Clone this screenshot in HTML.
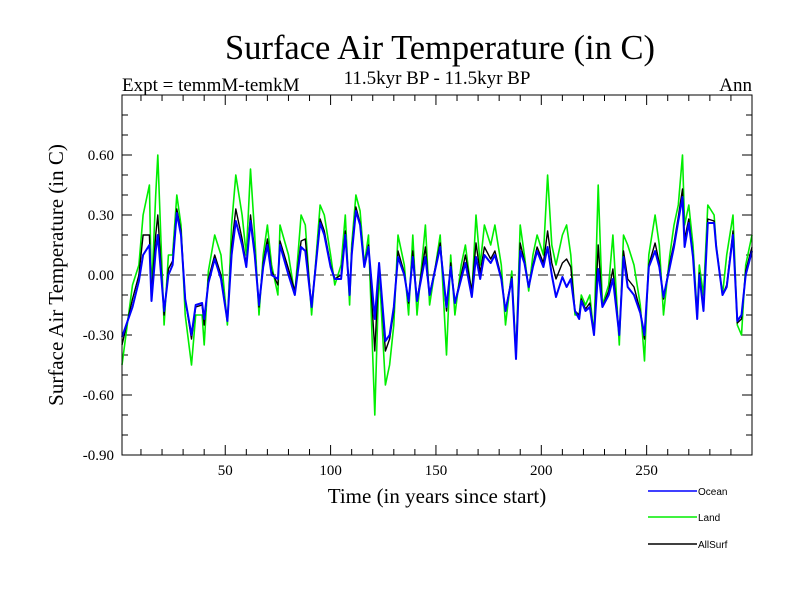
<!DOCTYPE html>
<html><head><meta charset="utf-8"><style>
body{margin:0;background:#fff;}
svg{display:block;font-family:"Liberation Serif",serif;}
</style></head><body>
<svg id="chart" width="800" height="600">
<text x="440" y="59" font-size="34.5" text-anchor="middle">Surface Air Temperature (in C)</text>
<text x="122" y="91" font-size="19">Expt = temmM-temkM</text>
<text x="437" y="84" font-size="19" text-anchor="middle">11.5kyr BP - 11.5kyr BP</text>
<text x="752" y="91" font-size="19" text-anchor="end">Ann</text>
<text x="437" y="503" font-size="21" text-anchor="middle">Time (in years since start)</text>
<text transform="translate(63,275) rotate(-90)" font-size="21" text-anchor="middle">Surface Air Temperature (in C)</text>
<g id="axes"></g>
<g id="series"></g>
<rect x="122" y="95" width="630" height="360" fill="none" stroke="#000" stroke-width="1"/>
<g font-family="Liberation Sans, sans-serif" font-size="10">
<g><line x1="648" y1="491" x2="697" y2="491" stroke="#0000ff" stroke-width="1.5"/><text x="698" y="495">Ocean</text></g>
<g><line x1="648" y1="517" x2="697" y2="517" stroke="#00ee00" stroke-width="1.5"/><text x="698" y="521">Land</text></g>
<g><line x1="648" y1="544" x2="697" y2="544" stroke="#000" stroke-width="1.5"/><text x="698" y="548">AllSurf</text></g>
</g>
</svg>
<script>
const years=[1,6,9,11,14,15,17,18,21,23,25,27,29,31,34,36,39,40,42,45,48,51,53,55,58,60,62,64,66,68,70,72,75,76,80,83,86,88,91,95,97,100,102,105,107,109,110,112,114,116,118,121,123,126,128,130,132,135,137,139,141,145,147,152,155,157,159,162,164,167,169,171,173,176,178,181,183,186,188,190,192,194,196,198,201,203,205,207,210,212,214,216,218,219,221,223,225,227,229,232,234,237,239,241,244,247,249,251,254,256,258,261,263,265,267,268,270,272,274,275,277,279,282,283,286,288,291,293,295,297,300];
const ocean=[-0.31,-0.16,-0.03,0.10,0.15,-0.13,0.12,0.20,-0.18,0,0.05,0.31,0.20,-0.12,-0.30,-0.15,-0.14,-0.22,-0.04,0.08,-0.02,-0.23,0.10,0.27,0.15,0.04,0.27,0.10,-0.15,0.04,0.15,0,-0.02,0.15,0,-0.10,0.14,0.12,-0.16,0.26,0.20,0.04,-0.02,-0.02,0.20,-0.10,0.10,0.32,0.25,0.04,0.14,-0.22,0.06,-0.33,-0.30,-0.16,0.09,0,-0.13,0.09,-0.13,0.09,-0.10,0.14,-0.16,0.04,-0.14,-0.02,0.06,-0.11,0.09,-0.02,0.10,0.06,0.10,-0.02,-0.18,-0.02,-0.42,0.12,0.06,-0.06,0.04,0.12,0.04,0.14,0,-0.11,-0.01,-0.06,-0.02,-0.18,-0.22,-0.13,-0.18,-0.16,-0.30,0.03,-0.16,-0.10,-0.02,-0.30,0.09,-0.06,-0.10,-0.19,-0.30,0.04,0.12,0.04,-0.11,0.04,0.14,0.27,0.39,0.14,0.26,0.09,-0.22,0,-0.18,0.26,0.26,0.14,-0.10,-0.06,0.20,-0.23,-0.20,0,0.12];
const land=[-0.45,-0.05,0.05,0.30,0.45,-0.10,0.40,0.60,-0.25,0.10,0.10,0.40,0.25,-0.20,-0.45,-0.20,-0.20,-0.35,0.02,0.20,0.10,-0.25,0.25,0.50,0.30,0.10,0.53,0.20,-0.20,0.10,0.25,0.05,-0.10,0.25,0.10,-0.10,0.30,0.25,-0.20,0.35,0.30,0.10,-0.05,0.05,0.30,-0.15,0.15,0.40,0.32,0.05,0.20,-0.70,0.03,-0.55,-0.45,-0.25,0.20,0.05,-0.20,0.20,-0.20,0.25,-0.15,0.20,-0.40,0.10,-0.20,0.05,0.15,-0.10,0.30,0.05,0.25,0.15,0.25,0.05,-0.25,0.02,-0.40,0.25,0.10,-0.08,0.10,0.20,0.10,0.50,0.15,0.05,0.20,0.25,0.10,-0.20,-0.20,-0.10,-0.15,-0.10,-0.30,0.45,-0.15,-0.05,0.20,-0.35,0.20,0.15,0.05,-0.15,-0.43,0.10,0.30,0.15,-0.20,0.10,0.25,0.35,0.60,0.25,0.35,0.15,-0.20,0.05,-0.10,0.35,0.30,0.15,-0.10,0.10,0.30,-0.25,-0.30,0.05,0.20];
const allsurf=[-0.35,-0.12,0,0.20,0.20,-0.10,0.20,0.30,-0.20,0.03,0.07,0.33,0.22,-0.12,-0.32,-0.16,-0.15,-0.25,-0.02,0.10,0,-0.23,0.14,0.33,0.18,0.05,0.30,0.12,-0.16,0.06,0.18,0.02,-0.05,0.17,0.03,-0.08,0.17,0.18,-0.16,0.28,0.22,0.05,-0.02,0,0.22,-0.10,0.12,0.34,0.26,0.05,0.15,-0.38,0.06,-0.38,-0.32,-0.18,0.12,0.01,-0.14,0.12,-0.13,0.14,-0.10,0.16,-0.18,0.06,-0.14,0,0.10,-0.08,0.16,0.01,0.14,0.08,0.12,-0.01,-0.18,-0.01,-0.40,0.16,0.07,-0.06,0.05,0.14,0.06,0.22,0.06,-0.02,0.06,0.08,0.04,-0.18,-0.20,-0.12,-0.17,-0.14,-0.30,0.15,-0.16,-0.08,0.03,-0.30,0.12,-0.02,-0.06,-0.18,-0.32,0.05,0.16,0.06,-0.12,0.06,0.16,0.29,0.43,0.18,0.28,0.10,-0.20,0.01,-0.16,0.28,0.27,0.14,-0.10,-0.05,0.22,-0.24,-0.22,0.02,0.14];
const yTickVals=[-0.9,-0.6,-0.3,0,0.3,0.6];
const yTickLabels=["-0.90","-0.60","-0.30","0.00","0.30","0.60"];
const xTickVals=[50,100,150,200,250];
const xTickLabels=["50","100","150","200","250"];

const NS="http://www.w3.org/2000/svg";
const X0=122,X1=752,Y0=455,Y1=95,XMIN=1,XMAX=300,YMIN=-0.9,YMAX=0.9;
function sx(v){return X0+(v-XMIN)/(XMAX-XMIN)*(X1-X0);}
function sy(v){return Y0-(v-YMIN)/(YMAX-YMIN)*(Y0-Y1);}
function mk(tag,attrs,parent){const e=document.createElementNS(NS,tag);for(const k in attrs)e.setAttribute(k,attrs[k]);parent.appendChild(e);return e;}
const axes=document.getElementById('axes');
for(let i=-9;i<=8;i++){const v=i/10;const y=sy(v);const major=(i%3===0);
 const t=mk('line',{x1:X0,x2:X0+(major?10:6),y1:y,y2:y,stroke:'#000'},axes);
 
 
 const t2=mk('line',{x1:X1,x2:X1-(major?10:6),y1:y,y2:y,stroke:'#000'},axes);
 
 }
yTickVals.forEach((v,i)=>{const t=mk('text',{x:X0-8,y:sy(v)+5,'font-size':15,'text-anchor':'end'},axes);t.textContent=yTickLabels[i];
 
 });
for(let v=10;v<=300;v+=10){const x=sx(v);const major=(v%50===0);
 const t=mk('line',{x1:x,x2:x,y1:Y0,y2:Y0-(major?10:6),stroke:'#000'},axes);
 
 
 const t2=mk('line',{x1:x,x2:x,y1:Y1,y2:Y1+(major?10:6),stroke:'#000'},axes);
 
 }
xTickVals.forEach((v,i)=>{const t=mk('text',{x:sx(v),y:Y0+20,'font-size':15,'text-anchor':'middle'},axes);t.textContent=xTickLabels[i];
 
 });
const zl=mk('line',{x1:X0,x2:X1,y1:sy(0),y2:sy(0),stroke:'#666','stroke-width':1.5,'stroke-dasharray':'10,6'},axes);


const series=document.getElementById('series');
function line(vals,color,w,name){const p=mk('polyline',{points:vals.map((v,i)=>sx(years[i]).toFixed(1)+','+sy(v).toFixed(1)).join(' '),fill:'none',stroke:color,'stroke-width':w,'stroke-linejoin':'round'},series);
 
 }
line(land,'#00ee00',1.6,'land-line');
line(allsurf,'#000000',1.4,'allsurf-line');
line(ocean,'#0000ff',2,'ocean-line');
</script>
</body></html>
